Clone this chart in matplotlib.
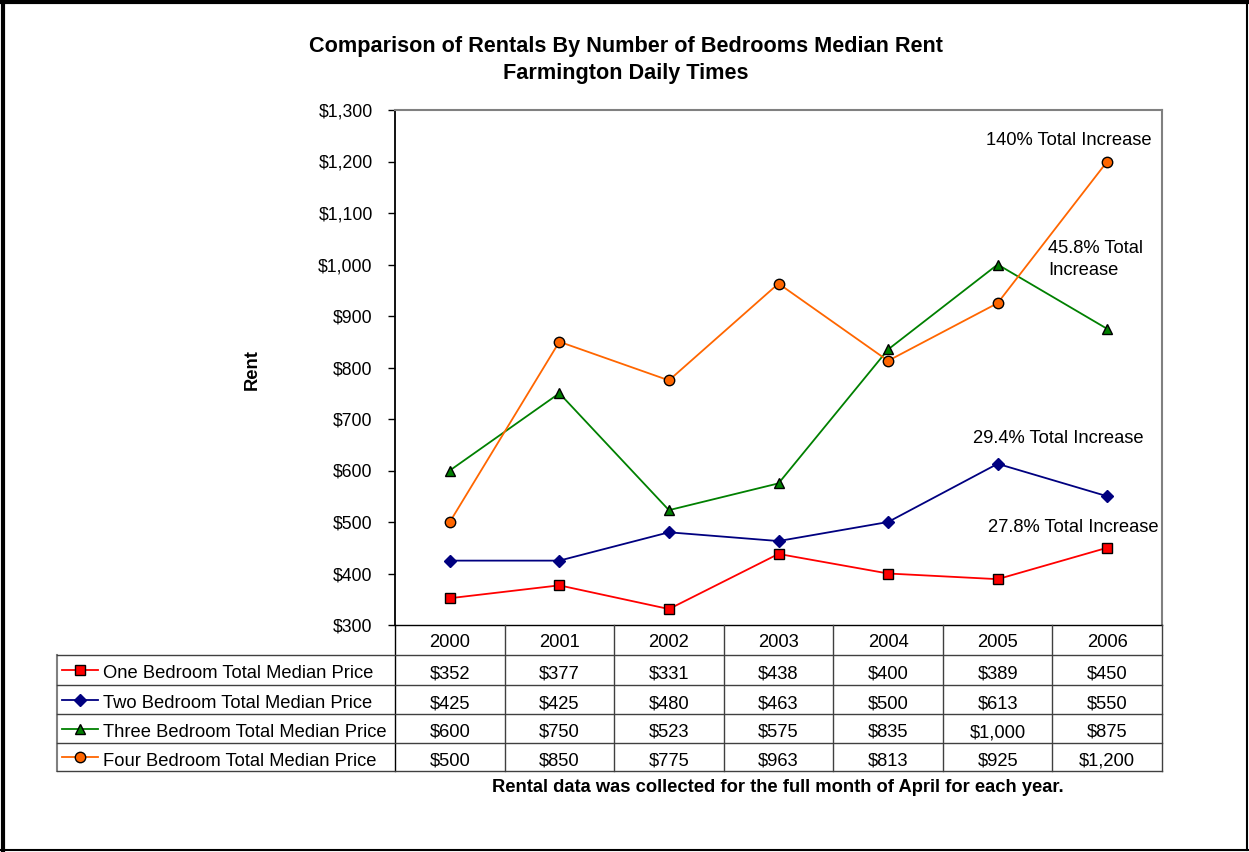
import matplotlib
matplotlib.use("Agg")
import matplotlib.pyplot as plt
from matplotlib.lines import Line2D
from matplotlib.transforms import blended_transform_factory
import numpy as np

plt.rcParams['font.family'] = ['Liberation Sans', 'DejaVu Sans']

# ---------------- data ----------------
years = ['2000', '2001', '2002', '2003', '2004', '2005', '2006']
one_bed = [352, 377, 331, 438, 400, 389, 450]
two_bed = [425, 425, 480, 463, 500, 613, 550]
three_bed = [600, 750, 523, 575, 835, 1000, 875]
four_bed = [500, 850, 775, 963, 813, 925, 1200]
series_names = ['One Bedroom Total Median Price', 'Two Bedroom Total Median Price',
                'Three Bedroom Total Median Price', 'Four Bedroom Total Median Price']
y_ticks = [300, 400, 500, 600, 700, 800, 900, 1000, 1100, 1200, 1300]
annotations = [('140% Total Increase', 5.65, 1241, 'center'),
               ('45.8% Total\nIncrease', 5.46, 1010, 'left'),
               ('29.4% Total Increase', 5.55, 662, 'center'),
               ('27.8% Total Increase', 5.69, 489, 'center')]
title = 'Comparison of Rentals By Number of Bedrooms Median Rent\nFarmington Daily Times'
footnote = 'Rental data was collected for the full month of April for each year.'

series = [one_bed, two_bed, three_bed, four_bed]
colors = ['#FF0000', '#000080', '#008000', '#FF6600']
markers = ['s', 'D', '^', 'o']
msizes = [7.5, 6.5, 7.5, 7.5]
edges = ['black', '#000080', 'black', 'black']

# ---------------- layout (pixels) ----------------
W, H = 1249, 852
L, R, T, B = 395, 1162, 110, 625
row_bounds = [625, 655, 685, 714, 743, 771]
TL = 57  # table left edge
FS = 13.2

def fx(px):
    return px / W

def fy(py):
    return 1 - py / H

fig = plt.figure(figsize=(W / 100, H / 100), dpi=100)
fig.patch.set_facecolor('white')

ax = fig.add_axes([fx(L), fy(B), fx(R) - fx(L), fy(T) - fy(B)])
x = np.arange(len(years))
for vals, c, m, ms, ec in zip(series, colors, markers, msizes, edges):
    ax.plot(x, vals, color=c, lw=1.3, marker=m, ms=ms, mfc=c, mec=ec, mew=1.0,
            zorder=3, clip_on=False)
ax.set_xlim(-0.5, len(years) - 0.5)
ax.set_ylim(y_ticks[0], y_ticks[-1])
ax.set_yticks(y_ticks)
ax.set_yticklabels(['${:,}'.format(v) for v in y_ticks], fontsize=12.7)
ax.set_xticks([])
ax.tick_params(axis='y', direction='out', length=5, width=1, pad=11)
for s in ['top', 'right']:
    ax.spines[s].set_color('#808080')
    ax.spines[s].set_linewidth(1.5)
ax.spines['left'].set_color('black')
ax.spines['left'].set_linewidth(1.3)
ax.spines['bottom'].set_color('black')
ax.spines['bottom'].set_linewidth(1.0)

for txt, xx, yy, ha in annotations:
    ax.text(xx, yy, txt, ha=ha, va='center', fontsize=FS, linespacing=1.35)

# ---------------- titles ----------------
fig.text(fx(626), fy(60), title, ha='center', va='center', fontsize=15.6,
         fontweight='bold', linespacing=1.4)
fig.text(fx(252), fy(370), 'Rent', rotation=90, ha='center', va='center',
         fontsize=FS, fontweight='bold')
fig.text(fx(778), fy(787), footnote, ha='center', va='center', fontsize=FS,
         fontweight='bold')

# ---------------- data table ----------------
lc = '#404040'
col_edges = np.linspace(L, R, len(years) + 1)
for i, cx in enumerate(col_edges):
    fig.add_artist(Line2D([fx(cx), fx(cx)], [fy(row_bounds[0]), fy(row_bounds[-1])],
                          color='black' if i == 0 else lc, lw=1.0))
fig.add_artist(Line2D([fx(TL), fx(TL)], [fy(row_bounds[1]), fy(row_bounds[-1])],
                      color='#808080', lw=1.5))
for rb in row_bounds[1:]:
    fig.add_artist(Line2D([fx(TL), fx(R)], [fy(rb), fy(rb)], color=lc, lw=1.0))

trans = blended_transform_factory(ax.transData, fig.transFigure)
hdr_y = fy((row_bounds[0] + row_bounds[1]) / 2 + 7)
for i, yr in enumerate(years):
    fig.text(i, hdr_y, yr, transform=trans, ha='center', va='baseline', fontsize=FS)

for r, (name, vals, c, m, ms, ec) in enumerate(zip(series_names, series, colors,
                                                     markers, msizes, edges)):
    mid = (row_bounds[r + 1] + row_bounds[r + 2]) / 2
    cy = fy(mid)
    ty = fy(mid + 8.5)
    fig.add_artist(Line2D([fx(62), fx(98)], [cy, cy], color=c, lw=1.3))
    fig.add_artist(Line2D([fx(80)], [cy], color=c, marker=m, ms=ms, mfc=c,
                          mec=ec, mew=1.0, lw=0))
    fig.text(fx(103), ty, name, ha='left', va='baseline', fontsize=FS)
    for i, v in enumerate(vals):
        fig.text(i, ty, '${:,}'.format(v), transform=trans, ha='center',
                 va='baseline', fontsize=FS)

# ---------------- outer border ----------------
fig.add_artist(Line2D([fx(1246.5), fx(1246.5)], [fy(0), fy(850)], color='black', lw=1.5))
fig.add_artist(Line2D([fx(0), fx(1249)], [fy(850), fy(850)], color='black', lw=1.5))
fig.add_artist(Line2D([fx(3), fx(3)], [fy(0), fy(852)], color='black', lw=3))
fig.add_artist(Line2D([fx(0), fx(1249)], [fy(2), fy(2)], color='black', lw=3))

fig.savefig('out.png', dpi=100, facecolor='white')
